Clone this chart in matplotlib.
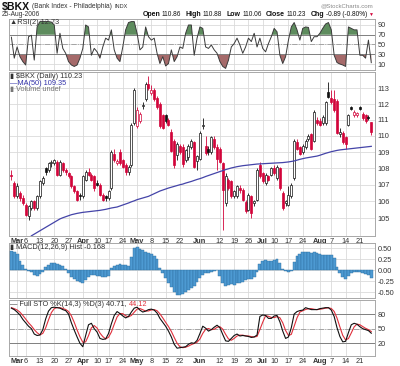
import numpy as np
import pandas as pd
import matplotlib
matplotlib.use("Agg")
import matplotlib.pyplot as plt
from matplotlib.ticker import NullLocator

# ---------------- data ----------------
holidays = ["2006-04-14", "2006-05-29", "2006-07-04"]
dates = pd.bdate_range("2006-02-27", "2006-08-25")
dates = dates[~dates.isin(pd.to_datetime(holidays))]

opens = [107.6, 107.1,
         106.3, 106.5, 106.2, 105.8, 105.1, 105.6, 106.0, 105.6, 106.3, 107.1, 108.0, 107.9, 108.3, 108.3, 108.4, 107.6, 108.3, 107.9, 107.7, 107.5, 106.9, 106.6, 106.4,
         106.3, 107.3, 107.8, 107.6, 107.5, 107.1, 107.0, 106.4, 106.3, 106.2, 106.8, 108.9, 108.3, 109.0, 108.5, 108.2, 107.8, 108.2, 110.8,
         110.6, 110.9, 111.85, 112.3, 113.3, 112.7, 112.9, 112.4, 112.0, 111.3, 111.3, 111.0, 110.25, 109.7, 108.8, 109.4, 109.3, 108.5, 108.7, 109.3, 109.6, 108.45,
         108.6, 110.6, 109.4, 109.2, 109.0, 109.8, 109.3, 109.2, 108.3, 105.9, 107.3, 107.2, 106.3, 106.3, 106.8, 106.7, 105.95, 105.5, 106.3, 105.9, 106.1, 108.2,
         107.7, 107.1, 107.5, 107.6, 108.0, 107.4, 108.0, 106.5, 105.9, 105.8, 106.3, 107.4, 109.6, 109.3, 109.0, 109.3, 109.8, 110.1, 109.7, 111.0,
         110.9, 110.8, 110.8, 112.75, 112.4, 112.3, 112.2, 110.1, 110.2, 109.9, 110.7, 111.8, 111.3, 111.3, 111.8, 111.4, 111.3, 111.2, 110.86]
highs = [107.9, 107.2,
         107.1, 106.6, 106.4, 105.9, 105.8, 106.1, 106.1, 106.4, 107.3, 107.5, 108.1, 108.4, 108.5, 108.6, 108.5, 108.5, 108.4, 108.0, 107.8, 107.6, 107.0, 106.7, 106.5,
         107.6, 107.9, 108.0, 107.7, 107.6, 107.3, 107.1, 106.5, 106.4, 106.7, 109.1, 109.2, 108.6, 109.2, 108.6, 108.3, 108.2, 110.8, 113.0,
         111.8, 111.5, 112.1, 113.4, 113.8, 113.2, 113.0, 112.5, 112.1, 111.4, 111.4, 111.1, 110.4, 109.8, 109.6, 109.5, 109.5, 109.2, 109.5, 109.8, 109.7, 108.8,
         110.3, 111.1, 110.0, 109.4, 110.0, 110.0, 109.5, 109.3, 108.4, 107.7, 107.4, 107.3, 106.7, 107.0, 107.0, 106.8, 106.1, 106.5, 106.4, 106.1, 108.0, 108.4,
         107.8, 107.7, 107.6, 108.1, 108.2, 108.2, 108.1, 106.6, 106.1, 106.9, 107.1, 109.8, 109.8, 109.4, 109.5, 109.8, 110.1, 110.2, 111.6, 111.2,
         111.1, 111.3, 112.2, 113.4, 112.9, 112.9, 112.3, 110.5, 110.3, 110.0, 111.4, 111.9, 111.6, 111.5, 111.9, 111.5, 111.4, 111.3, 110.88]
lows = [107.3, 106.2,
        106.2, 106.0, 105.8, 105.1, 104.9, 105.5, 105.5, 105.5, 106.2, 107.0, 107.6, 107.8, 108.1, 108.2, 107.5, 107.5, 107.8, 107.6, 107.4, 106.8, 106.5, 106.0, 106.1,
        106.2, 107.2, 107.5, 107.2, 106.6, 106.9, 106.3, 106.0, 106.0, 106.1, 106.7, 108.4, 108.2, 108.2, 108.0, 107.6, 107.6, 108.1, 110.7,
        110.5, 110.8, 111.7, 112.2, 112.9, 112.6, 112.2, 111.7, 110.5, 110.4, 110.8, 110.6, 109.0, 108.0, 108.5, 108.9, 108.1, 108.4, 108.5, 109.2, 108.0, 107.9,
        108.5, 110.4, 108.8, 108.8, 108.9, 109.2, 107.9, 108.3, 104.3, 105.7, 106.7, 106.2, 106.2, 106.2, 106.5, 106.0, 105.3, 105.4, 105.0, 105.7, 106.0, 107.4,
        107.1, 107.0, 107.2, 107.5, 107.6, 107.3, 106.7, 105.5, 105.7, 105.7, 106.2, 107.3, 109.1, 108.8, 108.9, 109.2, 109.7, 109.1, 109.6, 110.7,
        110.6, 110.7, 110.7, 112.4, 112.0, 111.5, 110.1, 109.9, 109.5, 109.2, 110.6, 111.6, 111.2, 111.2, 111.6, 111.0, 110.8, 111.0, 110.06]
closes = [107.5, 106.3,
          106.9, 106.2, 105.9, 105.2, 105.7, 106.0, 105.6, 106.3, 107.2, 107.4, 107.8, 108.3, 108.4, 108.5, 107.6, 108.4, 107.9, 107.8, 107.5, 106.9, 106.6, 106.1, 106.3,
          107.5, 107.8, 107.6, 107.3, 106.8, 107.0, 106.4, 106.1, 106.2, 106.6, 109.0, 108.5, 108.45, 108.3, 108.1, 107.8, 108.1, 110.7, 112.9,
          111.6, 111.4, 111.95, 113.3, 113.0, 112.9, 112.3, 111.8, 110.6, 110.5, 110.95, 110.7, 109.05, 108.2, 109.5, 109.0, 108.25, 109.1, 109.4, 109.7, 108.1, 108.75,
          110.2, 110.7, 108.95, 109.0, 109.9, 109.3, 108.6, 108.4, 106.7, 107.5, 106.8, 106.3, 106.6, 106.9, 106.7, 106.1, 105.45, 106.4, 105.3, 106.0, 107.9, 107.5,
          107.2, 107.6, 107.3, 108.0, 107.7, 108.1, 106.8, 105.6, 106.0, 106.4, 107.0, 109.7, 109.2, 108.9, 109.4, 109.7, 110.0, 109.2, 111.5, 110.8,
          110.7, 111.2, 112.1, 112.45, 112.1, 111.6, 110.2, 110.25, 109.6, 109.5, 111.3, 111.7, 111.5, 111.45, 111.7, 111.1, 110.9, 111.12, 110.23]
ma50 = [np.nan, np.nan,
        np.nan, np.nan, np.nan, np.nan, np.nan, 103.95, 104.05, 104.15, 104.25, 104.35, 104.45, 104.55, 104.65, 104.75, 104.85, 104.95, 105.02, 105.08, 105.14, 105.2, 105.24, 105.28, 105.31,
        105.34, 105.36, 105.38, 105.4, 105.42, 105.44, 105.46, 105.49, 105.52, 105.56, 105.6, 105.63, 105.66, 105.72, 105.78, 105.84, 105.9, 105.97, 106.03,
        106.1, 106.15, 106.2, 106.25, 106.3, 106.38, 106.46, 106.54, 106.62, 106.68, 106.74, 106.8, 106.85, 106.9, 106.95, 107.0, 107.04, 107.1, 107.15, 107.2, 107.26, 107.32,
        107.37, 107.43, 107.5, 107.56, 107.62, 107.68, 107.74, 107.8, 107.86, 107.92, 107.97, 108.02, 108.06, 108.1, 108.13, 108.16, 108.18, 108.2, 108.22, 108.24, 108.26, 108.27,
        108.28, 108.29, 108.3, 108.31, 108.32, 108.33, 108.34, 108.35, 108.37, 108.39, 108.42, 108.45, 108.5, 108.55, 108.59, 108.63, 108.66, 108.69, 108.72, 108.75,
        108.8, 108.86, 108.92, 108.97, 109.02, 109.06, 109.1, 109.13, 109.15, 109.17, 109.19, 109.21, 109.23, 109.25, 109.27, 109.29, 109.31, 109.33, 109.35]
rsi2 = [65, 22,
        45, 25, 15, 8, 66, 69, 18, 86, 97, 97, 97, 97, 96, 90, 32, 73, 42, 32, 15, 8, 5, 8, 22,
        42, 90, 86, 28, 42, 35, 22, 45, 63, 59, 80, 39, 22, 15, 45, 80, 95, 97, 97,
        73, 39, 45, 86, 66, 59, 63, 32, 11, 25, 6, 11, 39, 15, 25, 45, 42, 73, 90, 90, 28, 63,
        86, 83, 45, 42, 49, 39, 32, 15, 5, 1, 18, 45, 52, 63, 49, 32, 45, 63, 56, 73, 45, 63,
        42, 35, 52, 66, 83, 76, 28, 11, 25, 59, 86, 95, 80, 59, 83, 86, 85, 56, 66, 66,
        73, 83, 92, 95, 80, 28, 13, 10, 8, 5, 86, 83, 80, 80, 28, 28, 22, 59, 12.73]
macd_hist = [0.45, 0.42,
             0.37, 0.21, 0.12, 0.04, -0.01, -0.05, -0.10, -0.12, -0.08, -0.03, 0.08, 0.13, 0.16, 0.16, 0.15, 0.13, 0.09, 0.04, -0.06, -0.15, -0.20, -0.24, -0.27,
             -0.28, -0.23, -0.15, -0.11, -0.11, -0.12, -0.14, -0.16, -0.15, -0.12, 0.06, 0.10, 0.13, 0.15, 0.13, 0.11, 0.09, 0.30, 0.50,
             0.53, 0.49, 0.46, 0.43, 0.40, 0.37, 0.33, 0.25, 0.05, -0.07, -0.18, -0.28, -0.38, -0.50, -0.57, -0.56, -0.54, -0.50, -0.45, -0.41, -0.35, -0.27,
             -0.18, -0.10, -0.07, -0.06, -0.05, -0.02, 0.01, -0.14, -0.28, -0.36, -0.33, -0.32, -0.33, -0.30, -0.28, -0.26, -0.23, -0.21, -0.19, -0.15, -0.03, 0.15,
             0.22, 0.23, 0.22, 0.22, 0.23, 0.25, 0.17, 0.04, -0.02, -0.03, -0.02, 0.18, 0.32, 0.38, 0.41, 0.43, 0.43, 0.40, 0.42, 0.39,
             0.38, 0.36, 0.34, 0.35, 0.35, 0.27, 0.08, -0.06, -0.15, -0.20, -0.12, -0.07, -0.05, -0.03, -0.05, -0.07, -0.09, -0.11, -0.168]
sto_k = [92, 89,
         84, 78, 69, 62, 55, 50, 39, 36, 37, 48, 70, 86, 93, 94, 93, 92, 89, 87, 80, 62, 47, 33, 20,
         13, 36, 58, 61, 50, 43, 30, 28, 29, 40, 60, 77, 85, 81, 76, 72, 75, 84, 92,
         94, 88, 84, 86, 89, 90, 88, 82, 71, 63, 55, 45, 33, 18, 10, 11, 12, 13, 18, 21, 20, 26,
         40, 55, 51, 45, 48, 53, 57, 52, 38, 25, 24, 30, 36, 39, 35, 36, 35, 34, 32, 33, 37, 75,
         78, 77, 71, 71, 76, 77, 64, 45, 30, 33, 52, 80, 85, 87, 88, 93, 91, 89, 89, 89,
         91, 92, 93, 93, 88, 75, 52, 34, 23, 24, 42, 58, 61, 59, 54, 50, 48, 46, 40.71]
sto_d = [93, 91,
         88.3, 83.7, 77, 69.7, 62, 55.7, 48, 41.7, 37.3, 40.3, 51.7, 68, 83, 91, 93.3, 93, 91.3, 89.3, 85.3, 76.3, 63, 47.3, 33.3,
         22, 23, 35.7, 51.7, 56.3, 51.3, 41, 33.7, 29, 32.3, 43, 59, 74, 81, 80.7, 76.3, 74.3, 77, 83.7,
         90, 91.3, 88.7, 86, 86.3, 88.3, 89, 86.7, 80.3, 72, 63, 54.3, 44.3, 32, 20.3, 13, 11, 12, 14.3, 17.3, 19.7, 22.3,
         28.7, 40.3, 48.7, 50.3, 48, 48.7, 52.7, 54, 49, 38.3, 29, 26.3, 30, 35, 36.7, 36.7, 35.3, 35, 33.7, 33, 34, 48.3,
         63.3, 76.7, 75.3, 73, 72.7, 74.7, 72.3, 62, 46.3, 36, 38.3, 55, 72.3, 84, 86.7, 89.3, 90.7, 91, 89.7, 89,
         89.7, 90.7, 92, 92.7, 91.3, 85.3, 71.7, 53.7, 36.3, 27, 29.7, 41.3, 53.7, 59.3, 58, 54.3, 50.7, 48, 44.12]

tick_dates = ["2006-03-01", "2006-03-06", "2006-03-13", "2006-03-20", "2006-03-27",
              "2006-04-03", "2006-04-10", "2006-04-17", "2006-04-24",
              "2006-05-01", "2006-05-08", "2006-05-15", "2006-05-22",
              "2006-06-01", "2006-06-12", "2006-06-19", "2006-06-26",
              "2006-07-03", "2006-07-10", "2006-07-17", "2006-07-24",
              "2006-08-01", "2006-08-07", "2006-08-14", "2006-08-21"]
tick_labels = ["Mar", "6", "13", "20", "27", "Apr", "10", "17", "24", "May", "8", "15", "22",
               "Jun", "12", "19", "26", "Jul", "10", "17", "24", "Aug", "7", "14", "21"]
month_labels = {"Mar", "Apr", "May", "Jun", "Jul", "Aug"}

# ---------------- figure ----------------
plt.rcParams['font.family'] = ['Liberation Sans', 'DejaVu Sans']
W, H = 400, 366
fig = plt.figure(figsize=(4.0, 3.66), dpi=100)
fig.patch.set_facecolor('white')

def rect(top, bottom, left=9, right=375):
    return [left / W, 1 - bottom / H, (right - left) / W, (bottom - top) / H]

def fx(x):
    return x / W

def fy(y):
    return 1 - y / H

x = np.arange(len(dates)) - 2
opens = np.array(opens); highs = np.array(highs); lows = np.array(lows); closes = np.array(closes)
date_pos = {d.strftime("%Y-%m-%d"): i - 2 for i, d in enumerate(dates)}
tick_pos = [date_pos[d] for d in tick_dates]

GRID = '#dadada'
FRAME = '#a8a8a8'
TXT = '#333333'
FS = 5.3

def style(ax, ylim, yticks, ylabels, show_x=False):
    ax.set_xlim(-2.84, 125.3)
    ax.set_ylim(*ylim)
    ax.set_xticks(tick_pos)
    ax.set_yticks(yticks)
    ax.set_yticklabels(ylabels)
    ax.yaxis.set_minor_locator(NullLocator())
    ax.yaxis.tick_right()
    ax.tick_params(axis='both', length=0, labelsize=FS, colors=TXT, pad=2)
    ax.grid(True, color=GRID, lw=0.6)
    ax.set_axisbelow(True)
    for s in ax.spines.values():
        s.set_color(FRAME)
        s.set_linewidth(0.7)
    if show_x:
        ax.set_xticklabels(tick_labels)
        ax.tick_params(axis='x', pad=1.5)
        for lab in ax.get_xticklabels():
            if lab.get_text() in month_labels:
                lab.set_fontweight('bold')
    else:
        ax.set_xticklabels([])

# ---- RSI panel ----
ax_r = fig.add_axes(rect(19, 70))
rsi = np.array(rsi2, dtype=float)
ax_r.fill_between(x, rsi, 70, where=rsi >= 70, interpolate=True, color='#5e8c5e', lw=0)
ax_r.fill_between(x, rsi, 30, where=rsi <= 30, interpolate=True, color='#a56a6a', lw=0)
ax_r.axhline(70, color='#808080', lw=0.7)
ax_r.axhline(30, color='#808080', lw=0.7)
ax_r.axhline(50, color='#9a9a9a', lw=0.6, ls='-.')
ax_r.plot(x, rsi, color='#3a3a3a', lw=0.7)
style(ax_r, (-2.3, 102.3), [10, 30, 50, 70, 90], ["10", "30", "50", "70", "90"])

# ---- Price panel ----
ax_p = fig.add_axes(rect(72, 236))
ax_p.set_yscale('log')
prev = np.r_[opens[0] + 0.1, closes[:-1]]
cols = np.where(closes < prev, '#d2043a', '#111111')
filled = closes < opens
body_low = np.minimum(opens, closes)
body_h = np.maximum(np.abs(closes - opens), 0.04)
ax_p.vlines(x, lows, highs, colors=cols, lw=0.6, zorder=2)
face = [c if f else 'white' for c, f in zip(cols, filled)]
ax_p.bar(x, body_h, bottom=body_low, width=0.7, color=face, edgecolor=cols, lw=0.5, zorder=3)
ax_p.plot(x, ma50, color='#4444a8', lw=0.9, zorder=4)
pt = [105, 106, 107, 108, 109, 110, 111, 112, 113]
style(ax_p, (103.94, 114.05), pt, [str(v) for v in pt], show_x=True)

# ---- MACD panel ----
ax_m = fig.add_axes(rect(243, 298))
ax_m.bar(x, macd_hist, width=1.0, color='#4d9ad2', edgecolor='#2c6d9e', lw=0.3, zorder=3)
style(ax_m, (-0.635, 0.625), [-0.5, -0.25, 0, 0.25, 0.5],
      ["-0.50", "-0.25", "0.00", "0.25", "0.50"])

# ---- Full STO panel ----
ax_s = fig.add_axes(rect(300, 356))
ax_s.axhline(80, color='#808080', lw=0.7)
ax_s.axhline(20, color='#808080', lw=0.7)
ax_s.axhline(50, color='#9a9a9a', lw=0.6, ls='-.')
ax_s.plot(x, sto_d, color='#e0303c', lw=0.8, zorder=3)
ax_s.plot(x, sto_k, color='#111111', lw=0.8, zorder=4)
style(ax_s, (-6, 108.7), [20, 50, 80], ["20", "50", "80"], show_x=True)

# ---------------- header texts ----------------
fig.canvas.draw()
renderer = fig.canvas.get_renderer()

def seq(items, x0, y, gap=1.5):
    xc = x0
    for t, kw in items:
        tt = fig.text(fx(xc), fy(y), t, va='center', ha='left', **kw)
        xc += tt.get_window_extent(renderer).width + gap
    return xc

seq([("$BKX", dict(fontsize=7.6, fontweight='bold', color='#111111')),
     ("(Bank Index - Philadelphia)", dict(fontsize=4.8, color=TXT)),
     ("INDX", dict(fontsize=4.0, color=TXT))], 1.5, 7, gap=2.5)
fig.text(fx(373), fy(6), "@StockCharts.com", fontsize=4.4, va='center', ha='right', color='#888888')
fig.text(fx(1.5), fy(14), "25-Aug-2006", fontsize=4.8, va='center', ha='left', color=TXT)

B = dict(fontsize=5.0, fontweight='bold', color='#111111')
N = dict(fontsize=4.7, color='#111111')
hdr = [("Open", B), ("110.86", N), ("High", B), ("110.88", N), ("Low", B), ("110.06", N),
       ("Close", B), ("110.23", N), ("Chg", B), ("-0.89 (-0.80%)", N)]
tmp = [fig.text(0, 0, t, **kw) for t, kw in hdr]
widths = [t.get_window_extent(renderer).width for t in tmp]
for t in tmp:
    t.remove()
gaps = [1.5, 4.5, 1.5, 4.5, 1.5, 4.5, 1.5, 4.5, 1.5, 0]
total = sum(widths) + sum(gaps)
xc = 367 - total
for (t, kw), w, g in zip(hdr, widths, gaps):
    fig.text(fx(xc), fy(14), t, va='center', ha='left', **kw)
    xc += w + g
fig.text(fx(368.5), fy(14), "\u25BC", fontsize=3.6, va='center', ha='left', color='#d2043a')

# panel legends
LS = dict(fontsize=5.3, va='center', ha='left')
fig.text(fx(10), fy(22), "\u25B2RSI(2) 12.73", color=TXT, **LS)
fig.text(fx(10), fy(77), "\u25AE $BKX (Daily) 110.23", color=TXT, **LS)
fig.text(fx(10), fy(83.5), "\u2014MA(50) 109.35", color='#3333aa', **LS)
fig.text(fx(10), fy(90), "\u25AE Volume undef", color='#777777', **LS)
fig.text(fx(10), fy(247.5), "\u25AE MACD(12,26,9) Hist -0.168", color=TXT, **LS)
t1 = fig.text(fx(10), fy(304.5), "\u2014 Full STO %K(14,3) %D(3) 40.71,", color=TXT, **LS)
bb = t1.get_window_extent(renderer)
fig.text(fx(bb.x1 + 2), fy(304.5), "44.12", color='#e0303c', **LS)

fig.savefig("out.png", dpi=100, facecolor='white')
